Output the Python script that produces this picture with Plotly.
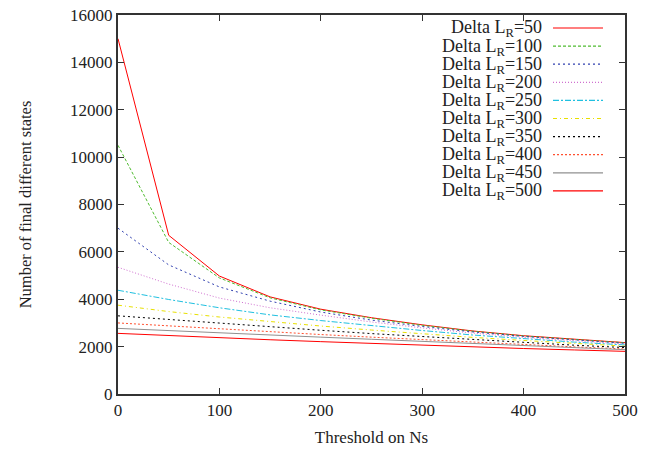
import plotly.graph_objects as go

# Threshold values on Ns
threshold = [0, 50, 100, 150, 200, 250, 300, 350, 400, 450, 500]

# Number of final different states for each Delta L_R
delta_lr = [50, 100, 150, 200, 250, 300, 350, 400, 450, 500]
states_50 = [15000, 6700, 4980, 4100, 3580, 3220, 2920, 2660, 2460, 2300, 2170]
states_100 = [10500, 6400, 4900, 4060, 3550, 3200, 2900, 2650, 2450, 2290, 2160]
states_150 = [7000, 5450, 4520, 3920, 3460, 3120, 2850, 2620, 2430, 2270, 2140]
states_200 = [5350, 4640, 4050, 3640, 3330, 3040, 2790, 2570, 2390, 2240, 2110]
states_250 = [4380, 3990, 3640, 3340, 3100, 2880, 2680, 2490, 2330, 2190, 2070]
states_300 = [3750, 3480, 3250, 3050, 2870, 2700, 2540, 2390, 2260, 2130, 2020]
states_350 = [3300, 3140, 2990, 2840, 2690, 2550, 2420, 2290, 2170, 2060, 1960]
states_400 = [3000, 2870, 2750, 2630, 2510, 2400, 2290, 2180, 2080, 1990, 1900]
states_450 = [2770, 2670, 2580, 2490, 2400, 2310, 2220, 2130, 2040, 1960, 1870]
states_500 = [2560, 2460, 2370, 2290, 2210, 2130, 2060, 1990, 1920, 1860, 1800]

series = [states_50, states_100, states_150, states_200, states_250,
          states_300, states_350, states_400, states_450, states_500]

cores = ["#ff0000", "#50bc30", "#3040b0", "#d070d0", "#20c0e0",
         "#e8e000", "#000000", "#ff5030", "#909090", "#ff0000"]
tracos = ["solid", "3px,2px", "2px,3px", "1px,2px", "6px,2px,2px,2px",
          "4px,3px,1px,3px", "2px,3px", "2px,2px", "solid", "solid"]

fig = go.Figure()
for lr, ys, cor, tr in zip(delta_lr, series, cores, tracos):
    fig.add_trace(go.Scatter(x=threshold, y=ys, mode="lines", name=f"Delta L_R={lr}",
                             line=dict(color=cor, width=1, dash=tr), showlegend=False))

# Area do grafico (em pixels da pagina; o body do html tem 8px de margem)
L, R, T, B = 118, 625, 15, 394
OFF = 8
def px(x):
    return (x - L) / (R - L)
def py(y):
    return (B - y) / (B - T)

# Legenda no estilo gnuplot: texto a direita, amostra de linha depois
for i, (lr, cor, tr) in enumerate(zip(delta_lr, cores, tracos)):
    yy = 28 + i * 18.1
    fig.add_annotation(xref="paper", yref="paper", x=px(544), y=py(yy + 1),
                       text=f"Delta L<sub>R</sub>={lr}", showarrow=False,
                       xanchor="right", yanchor="middle",
                       font=dict(family="Liberation Serif", size=18, color="#222"))
    fig.add_shape(type="line", xref="paper", yref="paper",
                  x0=px(553), x1=px(603), y0=py(yy), y1=py(yy),
                  line=dict(color=cor, width=1.2, dash=tr))

serif = "Liberation Serif"
eixo = dict(showline=True, linecolor="#333", linewidth=2, mirror="allticks",
            ticks="inside", ticklen=6, tickcolor="#333", showgrid=False, zeroline=False,
            automargin=False, tickformat="d", ticklabeloverflow="allow",
            tickfont=dict(family=serif, size=17, color="#222"))

fig.update_layout(
    width=653, height=451,
    margin=dict(l=L - OFF, r=653 - R + OFF, t=T - OFF, b=451 - B + OFF),
    plot_bgcolor="white", paper_bgcolor="white",
    font=dict(family=serif, size=17, color="#222"),
    xaxis=dict(eixo, range=[0, 500], dtick=100,
               title=dict(text="Threshold on Ns", standoff=12,
                          font=dict(family=serif, size=17, color="#222"))),
    yaxis=dict(eixo, range=[0, 16000], dtick=2000,
               title=dict(text="Number of final different states", standoff=34,
                          font=dict(family=serif, size=16.5, color="#222"))),
)

fig.write_html("out.html")
